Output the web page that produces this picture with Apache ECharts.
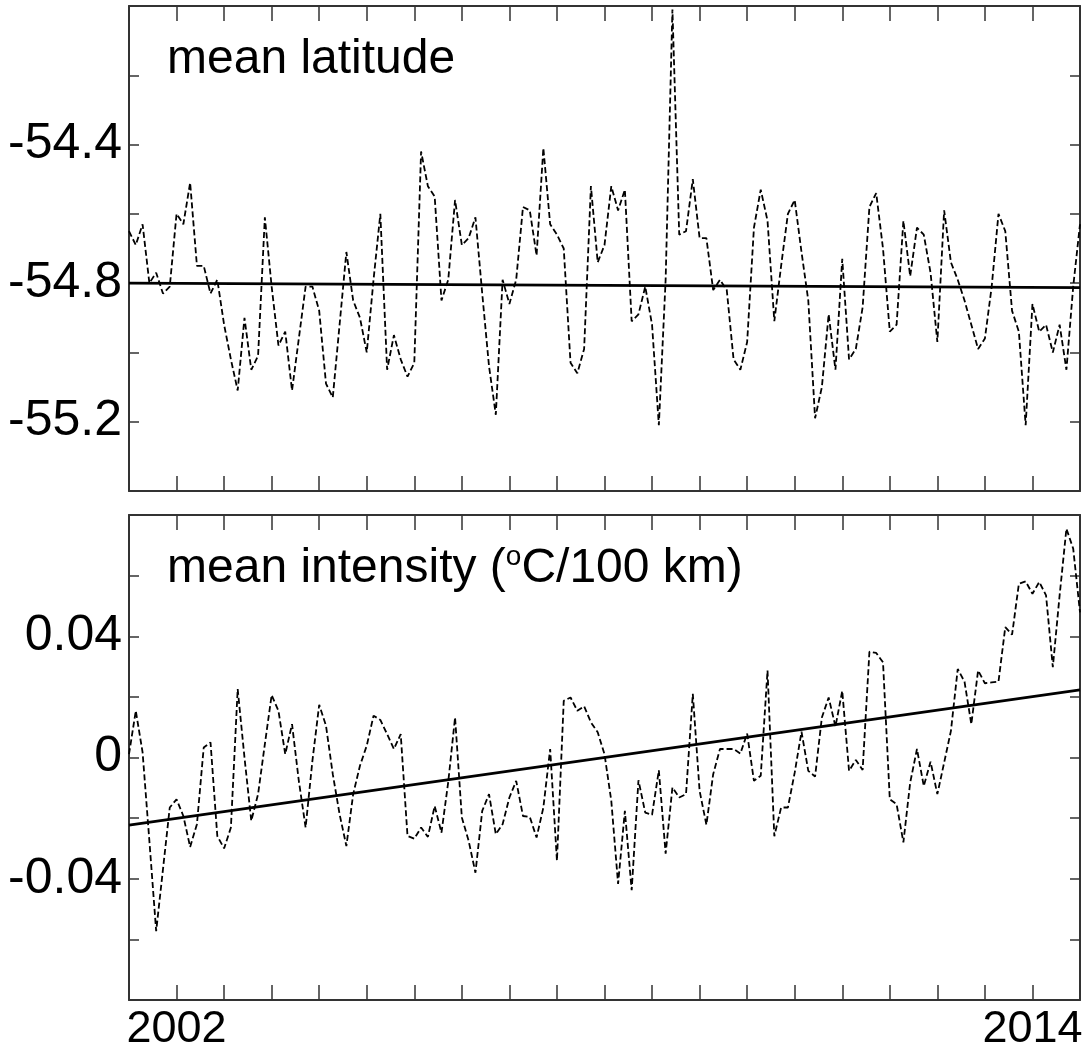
<!DOCTYPE html>
<html>
<head>
<meta charset="utf-8">
<script src="https://cdn.jsdelivr.net/npm/echarts@6/dist/echarts.min.js"></script>
<style>
html,body{margin:0;padding:0;background:#fff;}
#chart{width:1086px;height:1049px;}
</style>
</head>
<body>
<div id="chart"></div>
<script>
// ---- data ----
// x positions: months since Jan 2000; series spans May 2001 .. Sep 2014
const xStart = 16;
const xEnd = 176;
const xTickValues = [24, 168];
const xTickLabels = ['2002', '2014'];

const latitude = [
-54.65,-54.69,-54.63,-54.80,-54.77,-54.83,-54.81,-54.60,-54.63,-54.51,
-54.75,-54.75,-54.83,-54.79,-54.92,-55.02,-55.11,-54.90,-55.05,-55.01,
-54.61,-54.81,-54.98,-54.94,-55.11,-54.96,-54.81,-54.81,-54.88,-55.09,
-55.13,-54.92,-54.71,-54.85,-54.90,-55.00,-54.79,-54.60,-55.05,-54.95,
-55.02,-55.07,-55.03,-54.42,-54.52,-54.55,-54.85,-54.79,-54.56,-54.69,
-54.67,-54.61,-54.83,-55.04,-55.18,-54.79,-54.86,-54.79,-54.58,-54.59,
-54.72,-54.41,-54.63,-54.66,-54.70,-55.03,-55.06,-54.99,-54.52,-54.74,
-54.69,-54.52,-54.59,-54.53,-54.91,-54.89,-54.81,-54.92,-55.21,-54.79,
-54.01,-54.66,-54.65,-54.50,-54.67,-54.67,-54.82,-54.79,-54.82,-55.02,
-55.05,-54.97,-54.64,-54.53,-54.62,-54.91,-54.75,-54.60,-54.56,-54.71,
-54.85,-55.19,-55.10,-54.89,-55.05,-54.73,-55.02,-54.99,-54.87,-54.58,
-54.54,-54.70,-54.94,-54.92,-54.62,-54.78,-54.64,-54.66,-54.77,-54.97,
-54.59,-54.74,-54.79,-54.85,-54.92,-54.99,-54.96,-54.81,-54.60,-54.65,
-54.88,-54.94,-55.21,-54.86,-54.94,-54.92,-55.00,-54.92,-55.05,-54.81,
-54.63
];

const intensity = [
0.0011,0.0154,0.0017,-0.0275,-0.0573,-0.0369,-0.0165,-0.0138,-0.0193,-0.0295,
-0.0220,0.0033,0.0050,-0.0259,-0.0300,-0.0231,0.0226,0.0000,-0.0209,-0.0121,
0.0044,0.0206,0.0154,0.0011,0.0110,-0.0077,-0.0231,-0.0011,0.0174,0.0105,
-0.0055,-0.0187,-0.0292,-0.0121,-0.0027,0.0039,0.0138,0.0124,0.0077,0.0028,
0.0077,-0.0259,-0.0268,-0.0231,-0.0262,-0.0160,-0.0248,-0.0080,0.0132,-0.0198,
-0.0275,-0.0380,-0.0176,-0.0121,-0.0253,-0.0220,-0.0132,-0.0077,-0.0193,-0.0196,
-0.0264,-0.0165,0.0028,-0.0341,0.0187,0.0198,0.0154,0.0169,0.0116,0.0083,
0.0011,-0.0143,-0.0417,-0.0176,-0.0438,-0.0075,-0.0182,-0.0189,-0.0042,-0.0317,
-0.0099,-0.0132,-0.0121,0.0210,-0.0110,-0.0222,-0.0055,0.0028,0.0028,0.0028,
0.0013,0.0079,-0.0077,-0.0060,0.0287,-0.0260,-0.0165,-0.0165,-0.0050,0.0085,
-0.0044,-0.0063,0.0132,0.0198,0.0102,0.0220,-0.0044,-0.0008,-0.0041,0.0349,
0.0345,0.0314,-0.0138,-0.0154,-0.0280,-0.0083,0.0028,-0.0094,-0.0014,-0.0121,
-0.0017,0.0088,0.0292,0.0250,0.0110,0.0287,0.0245,0.0248,0.0250,0.0430,
0.0405,0.0573,0.0581,0.0540,0.0579,0.0535,0.0298,0.0535,0.0755,0.0689,
0.0479
];

// linear trend end values (left, right)
const latitudeTrend = [-54.800, -54.813];
const intensityTrend = [-0.0223, 0.0223];

// y tick labels shown
const latTickLabels = [-54.4, -54.8, -55.2];
const intTickLabels = [0.04, 0, -0.04];

// ---- build ----
function toXY(arr) {
  const step = (xEnd - xStart) / (arr.length - 1);
  return arr.map((v, i) => [xStart + i * step, v]);
}
function labelFmt(list) {
  return function (v) {
    for (const l of list) { if (Math.abs(v - l) < 1e-9) return String(l); }
    return '';
  };
}
const FONT = 'Liberation Sans, Arial, Helvetica, sans-serif';
const AX = '#333';

function xAxisPair(gridIndex, showLabels) {
  const base = {
    type: 'value', gridIndex: gridIndex, min: xStart, max: xEnd, interval: 8,
    splitLine: { show: false },
    axisLine: { show: true, onZero: false, lineStyle: { color: AX, width: 2 } },
    axisTick: { show: true, inside: true, length: 15, lineStyle: { color: AX, width: 1.5 } }
  };
  return [
    Object.assign({}, base, {
      position: 'bottom',
      axisLabel: showLabels ? {
        show: true, margin: 7, color: '#000', fontSize: 45, fontFamily: FONT,
        formatter: function (v) {
          const k = xTickValues.indexOf(Math.round(v));
          return k >= 0 ? xTickLabels[k] : '';
        }
      } : { show: false }
    }),
    Object.assign({}, base, { position: 'top', axisLabel: { show: false } })
  ];
}
function yAxisPair(gridIndex, min, max, interval, labels) {
  const base = {
    type: 'value', gridIndex: gridIndex, min: min, max: max, interval: interval,
    splitLine: { show: false }, scale: true,
    axisLine: { show: true, onZero: false, lineStyle: { color: AX, width: 2 } },
    axisTick: { show: true, inside: true, length: 10, lineStyle: { color: AX, width: 1.5 } }
  };
  return [
    Object.assign({}, base, {
      position: 'left',
      axisLabel: { show: true, margin: 7, color: '#000', fontSize: 50, fontFamily: FONT, formatter: labelFmt(labels) }
    }),
    Object.assign({}, base, { position: 'right', axisLabel: { show: false } })
  ];
}

const chart = echarts.init(document.getElementById('chart'), null, { renderer: 'canvas' });
const dashStyle = { color: '#000', width: 1.8, type: [6, 3] };
const trendStyle = { color: '#000', width: 2.6, type: 'solid' };

chart.setOption({
  animation: false,
  backgroundColor: '#fff',
  grid: [
    { left: 129, top: 6, width: 951, height: 485, containLabel: false, outerBoundsMode: 'none' },
    { left: 129, top: 515, width: 951, height: 485, containLabel: false, outerBoundsMode: 'none' }
  ],
  xAxis: [].concat(xAxisPair(0, false), xAxisPair(1, true)),
  yAxis: [].concat(
    yAxisPair(0, -55.4, -54.0, 0.2, latTickLabels),
    yAxisPair(1, -0.08, 0.08, 0.02, intTickLabels)
  ),
  series: [
    { type: 'line', xAxisIndex: 0, yAxisIndex: 0, data: toXY(latitude), symbol: 'none', lineStyle: dashStyle, z: 3 },
    { type: 'line', xAxisIndex: 0, yAxisIndex: 0, data: toXY(latitudeTrend), symbol: 'none', lineStyle: trendStyle, z: 4 },
    { type: 'line', xAxisIndex: 2, yAxisIndex: 2, data: toXY(intensity), symbol: 'none', lineStyle: dashStyle, z: 3 },
    { type: 'line', xAxisIndex: 2, yAxisIndex: 2, data: toXY(intensityTrend), symbol: 'none', lineStyle: trendStyle, z: 4 }
  ],
  graphic: [
    { type: 'text', left: 167, top: 36, style: { text: 'mean latitude', font: '48px ' + FONT, fill: '#000' } },
    { type: 'text', left: 167, top: 543, style: {
      text: '{a|mean intensity }{b|(}{s|o}{b|C/100 km)}',
      font: '48px ' + FONT, fill: '#000',
      rich: {
        a: { fontSize: 48, fontFamily: FONT, fill: '#000', verticalAlign: 'bottom', lineHeight: 50 },
        b: { fontSize: 48, fontFamily: FONT, fill: '#000', verticalAlign: 'bottom', lineHeight: 50 },
        s: { fontSize: 28, fontFamily: FONT, fill: '#000', verticalAlign: 'top', lineHeight: 50 }
      }
    } }
  ]
});
</script>
</body>
</html>
